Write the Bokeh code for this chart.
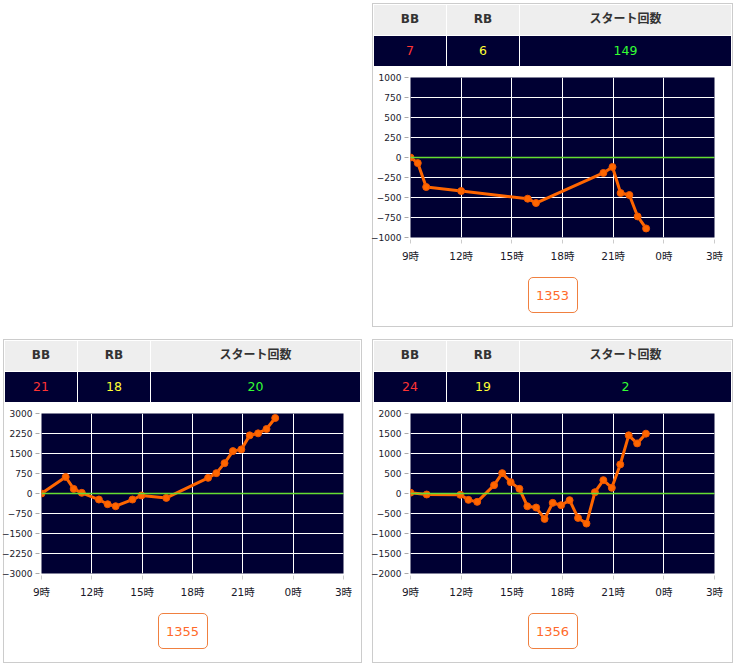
from bokeh.plotting import figure
from bokeh.models import Range1d, FixedTicker, Span, Div, Spacer
from bokeh.layouts import column, row
from bokeh.embed import file_html
from bokeh.resources import INLINE

# ---------------- data ----------------
machines = ["1353", "1355", "1356"]
bb_counts = [7, 21, 24]
rb_counts = [6, 18, 19]
start_counts = [149, 20, 2]

hour_ticks = [9, 12, 15, 18, 21, 24, 27]
hour_labels = ["9時", "12時", "15時", "18時", "21時", "0時", "3時"]

hours_1353 = [9.0, 9.43, 9.93, 12.0, 15.94, 16.43, 20.42, 20.96, 21.44, 21.96, 22.45, 22.95]
diff_1353 = [0, -70, -369, -419, -515, -569, -193, -118, -444, -469, -737, -887]

hours_1355 = [9.0, 10.44, 10.92, 11.4, 12.42, 12.94, 13.42, 14.42, 14.96, 16.44, 18.93,
              19.42, 19.91, 20.41, 20.91, 21.41, 21.91, 22.41, 22.93]
diff_1355 = [0, 620, 173, 25, -226, -402, -477, -226, -75, -165, 587,
             763, 1139, 1590, 1654, 2180, 2256, 2418, 2831]

hours_1356 = [9.0, 9.96, 11.95, 12.43, 12.95, 13.95, 14.43, 14.93, 15.45, 15.92, 16.44, 16.94,
              17.42, 17.92, 18.42, 18.92, 19.42, 19.92, 20.42, 20.92, 21.42, 21.92, 22.42, 22.94]
diff_1356 = [20, -25, -33, -159, -209, 209, 509, 284, 117, -318, -351, -635,
             -234, -292, -167, -610, -752, 33, 334, 142, 727, 1454, 1253, 1496]

y_limits = [1000, 3000, 2000]
y_steps = [250, 750, 500]

# ---------------- styling ----------------
NAVY = "#000033"
ORANGE = "#ff6600"
FONT = "'DejaVu Sans', 'Noto Sans CJK JP', sans-serif"
HTML_FONT = FONT.replace("'", "&#39;")

FRAME_L, FRAME_T, FRAME_H = 37, 10, 160
PULL = 9   # the canvas reaches PULL px left of the panel so the y labels fit


def make_table(i, inner_w):
    c3 = inner_w - 4 - 144
    th = ("background:#eeeeee;color:#333333;font-weight:bold;font-size:12px;"
          "height:30px;padding:0;text-align:center;vertical-align:middle;")
    td = ("background:%s;font-size:12.5px;height:30px;padding:0;text-align:center;"
          "vertical-align:middle;" % NAVY)
    html = (
        "<table style=\"border-collapse:separate;border-spacing:1px;table-layout:fixed;"
        "width:%dpx;font-family:%s;margin:0;\">" % (inner_w, HTML_FONT)
        + "<tr><th style=\"%swidth:72px\">BB</th><th style=\"%swidth:72px\">RB</th>"
          "<th style=\"%swidth:%dpx\">スタート回数</th></tr>" % (th, th, th, c3)
        + "<tr><td style=\"%scolor:#ff3333\">%d</td><td style=\"%scolor:#ffff33\">%d</td>"
          "<td style=\"%scolor:#33ff33\">%d</td></tr>" % (td, bb_counts[i], td, rb_counts[i],
                                                          td, start_counts[i])
        + "</table>"
    )
    return Div(text=html, width=inner_w, height=63, margin=0)


def make_chart(xs, ys, lim, step, inner_w):
    p = figure(width=inner_w + PULL, height=203, output_backend="svg", toolbar_location=None,
               x_range=Range1d(9, 27), y_range=Range1d(-lim, lim),
               min_border_left=FRAME_L + PULL, min_border_right=9,
               min_border_top=FRAME_T, min_border_bottom=203 - FRAME_T - FRAME_H,
               background_fill_color=NAVY, border_fill_color="white", border_fill_alpha=0,
               outline_line_color=None, margin=(0, 0, 0, -PULL))

    p.xaxis.ticker = FixedTicker(ticks=hour_ticks)
    p.xaxis.major_label_overrides = {t: l for t, l in zip(hour_ticks, hour_labels)}
    p.yaxis.ticker = FixedTicker(ticks=list(range(-lim, lim + 1, step)))
    for ax in (p.xaxis, p.yaxis):
        ax.axis_line_color = None
        ax.minor_tick_line_color = None
        ax.major_tick_in = -2
        ax.major_tick_out = 6
        ax.major_label_text_font = FONT
        ax.major_label_text_color = "#1a1a2a"
    p.xaxis.major_tick_line_color = "#cccccc"
    p.yaxis.major_tick_line_color = "#aaaaaa"
    p.xaxis.major_label_text_font_size = "10.5px"
    p.yaxis.major_label_text_font_size = "9px"
    p.yaxis.major_label_standoff = 3
    p.xaxis.major_label_standoff = 6

    p.grid.grid_line_color = "white"
    p.grid.grid_line_width = 1
    p.grid.grid_line_alpha = 1

    p.add_layout(Span(location=0, dimension="width", line_color="#66dd33", line_width=1.5))

    p.line(xs, ys, line_color=ORANGE, line_width=3)
    p.scatter(xs, ys, size=7, fill_color=ORANGE, line_color="#ee5500")
    return p


def make_button(i, inner_w):
    html = ("<div style=\"width:%dpx;height:56px;margin:0;padding-top:7px;box-sizing:border-box;\">"
            "<div style=\"margin:0 auto;width:50px;height:36px;border:1px solid #f08040;"
            "border-radius:5px;text-align:center;line-height:36px;color:#ff6a2a;"
            "font-family:%s;font-size:13px;\">%s</div></div>"
            % (inner_w, HTML_FONT, machines[i]))
    return Div(text=html, width=inner_w, height=56, margin=0)


def make_panel(i, xs, ys, inner_w):
    return column(make_table(i, inner_w),
                  make_chart(xs, ys, y_limits[i], y_steps[i], inner_w),
                  make_button(i, inner_w),
                  spacing=0,
                  styles={"border": "1px solid #cccccc", "background": "white"})


panel_a = make_panel(0, hours_1353, diff_1353, 359)
panel_b = make_panel(1, hours_1355, diff_1355, 357)
panel_c = make_panel(2, hours_1356, diff_1356, 359)

root = column(Spacer(width=10, height=3),
              row(Spacer(width=372, height=10), panel_a),
              Spacer(width=10, height=12),
              row(Spacer(width=3, height=10), panel_b, Spacer(width=10, height=10), panel_c))

open("out.html", "w").write(file_html(root, INLINE))
